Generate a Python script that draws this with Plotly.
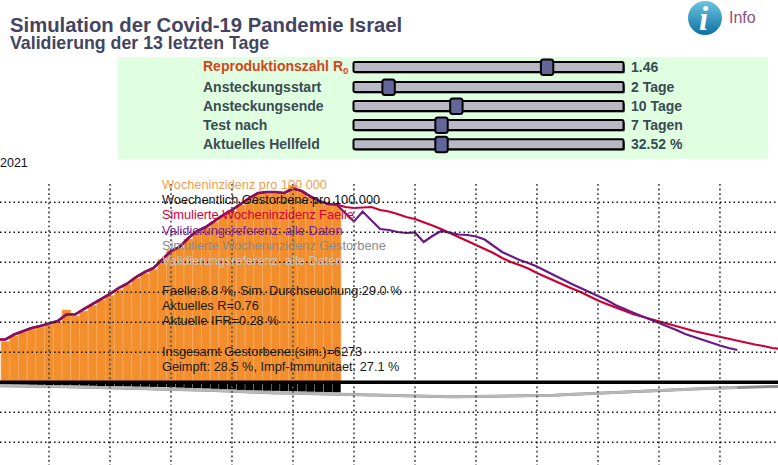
import plotly.graph_objects as go

# ---- data ----
weekly_incidence = [40.8,46.3,50.3,53.3,55.3,57.8,60.3,72.3,66.3,71.3,76.8,82.3,86.8,92.3,97.8,103.8,108.8,112.8,122.8,131.8,
                    134.3,143.3,150.3,154.8,160.3,166.3,171.3,177.3,183.3,188.3,189.3,189.3,188.3,196.8,190.3,184.8,180.3,177.3,176.8]
weekly_deaths = [-2,-2.2,-2.3,-2.5,-2.6,-2.8,-2.9,-3.1,-3.2,-3.4,-3.5,-3.7,-3.8,-4,-4.1,-4.3,-4.4,-4.6,-4.8,-5,
                 -5.3,-5.6,-5.9,-6.2,-6.5,-6.9,-7.2,-7.6,-8,-8.2,-8.4,-8.6,-8.8,-9,-9.2,-9.4,-9.6,-9.8,-10]
# case curves start one step before the first bar (left page edge)
validation_cases = [42.8,42.8,47.8,51.3,54.3,56.3,58.8,61.3,67.8,67.8,73.3,78.3,83.3,88.3,94.3,98.8,105.3,110.3,114.3,122.3,131.3,
                    135.3,144.3,151.3,155.3,161.3,167.3,172.3,178.3,184.3,189.3,190.3,190.3,189.3,193.8,191.3,185.8,181.3,178.3,177.8,
                    169.3,160.8,170.8,162.3,153.3,152.3,150.3,149.3,149.8,140.3,146.3,151.3,149.8,147.8,147.3,145.8,142.8,136.3,130.3,
                    126.3,122.3,119.3,115.8,111.3,106.8,102.8,98.3,94.3,90.3,86.3,82.3,77.3,73.3,69.8,66.3,62.8,59.8,56.3,52.3,48.3,
                    45.3,42.3,39.3,36.8,34.3,32.3]
simulated_cases = [42.8,42.8,47.8,51.3,54.3,56.3,58.8,61.3,67.8,67.8,73.3,78.3,83.3,88.3,94.3,98.8,105.3,110.3,114.3,122.3,131.3,
                   135.3,144.3,151.3,155.3,161.3,167.3,172.3,178.3,184.3,189.3,190.3,190.3,189.3,193.8,191.3,185.8,181.3,178.3,177.8,
                   175.3,174.3,174.8,175.3,172.3,170.8,168.3,165.3,163.3,160.3,156.8,153.3,149.3,145.8,141.8,137.8,133.3,129.3,124.3,
                   120.3,117.3,113.8,109.3,105.3,101.3,97.3,93.8,90.3,85.8,81.8,78.3,74.8,71.3,68.3,65.8,63.3,60.8,58.3,55.8,53.8,
                   51.3,49.3,47.3,45.3,43.3,41.3,39.3,37.8,36.3,34.3,33.3]
simulated_deaths = [-3.5,-3.5,-3.6,-3.7,-3.9,-4,-4.2,-4.3,-4.5,-4.6,-4.8,-4.9,-5.1,-5.2,-5.4,-5.5,-5.7,-5.9,-6.1,-6.3,-6.5,
                    -6.8,-7.1,-7.5,-7.9,-8.3,-8.7,-9.1,-9.5,-10,-10.2,-10.4,-10.6,-10.8,-11,-11.2,-11.4,-11.6,-11.8,-12,
                    -12.3,-12.6,-12.9,-13.2,-13.5,-13.7,-13.9,-14.1,-14.3,-14.4,-14.5,-14.5,-14.5,-14.5,-14.4,-14.4,-14.3,-14.3,-14.2,-14.1,-13.9,
                    -13.7,-13.5,-13.2,-12.9,-12.5,-12.1,-11.6,-11.2,-10.7,-10.2,-9.8,-9.4,-9,-8.5,-8.1,-7.7,-7.4,-7.2,-6.9,-6.7,
                    -6.4,-6,-5.7,-5.4,-5.2,-4.9,-4.7,-4.5,-4.2,-4]
validation_deaths = simulated_deaths[:86]
week_ticks = [5,12,19,26,33,40,47,54,61,68,75,82]
value_ticks = [180,150,120,90,60,30,-30,-60]

slider_labels = ["Reproduktionszahl R<sub>0</sub>","Ansteckungsstart","Ansteckungsende","Test nach","Aktuelles Hellfeld"]
slider_texts = ["1.46","2 Tage","10 Tage","7 Tagen","32.52 %"]
slider_fraction = [0.717,0.130,0.381,0.326,0.326]

legend_lines = ["Wocheninzidenz pro 100 000","Woechentlich Gestorbene pro 100.000","Simulierte Wocheninzidenz Faelle",
                "Validierungsreferenz: alle Daten","Simulierte Wocheninzidenz Gestorbene","Validierungsreferenz: alle Daten"]
legend_colors = ["#f0a050","#111111","#d8003a","#7a1fa0","#8a8a8a","#c4c4c4"]
info_lines = ["Faelle:8.8 %, Sim. Durchseuchung:29.0 %","Aktuelles R=0.76","Aktuelle IFR=0.28 %",
              "Insgesamt Gestorbene:(sim.)=6273","Geimpft: 28.5 %, Impf-Immunitaet: 27.1 %"]

# ---- page geometry ----
W, H = 778, 465
FONT = "Liberation Sans"
PX0, PXSTEP = 5.4, 8.714
ZERO_PX = 382.3
def px(x): return x / W
def py(y): return 1 - y / H

OVERLAP = 40  # points where simulation and validation coincide
fig = go.Figure()
fig.add_bar(x=list(range(len(weekly_incidence))), y=weekly_incidence, marker_color="#f28e2b",
            marker_line=dict(color="#f6ab62", width=0.7), width=1.0)
fig.add_bar(x=list(range(len(weekly_deaths))), y=weekly_deaths, marker_color="#000000", marker_line_width=0, width=0.96)
days = list(range(-1, 90))
fig.add_scatter(x=days, y=simulated_cases, mode="lines", line=dict(color="#cc0033", width=2.2))
fig.add_scatter(x=days[:OVERLAP], y=validation_cases[:OVERLAP], mode="lines", line=dict(color="#85105f", width=2.6))
fig.add_scatter(x=days[OVERLAP-1:len(validation_cases)], y=validation_cases[OVERLAP-1:], mode="lines", line=dict(color="#6a1a85", width=2.2))
fig.add_scatter(x=days, y=simulated_deaths, mode="lines", line=dict(color="#8c8c8c", width=3))
fig.add_scatter(x=days[:len(validation_deaths)], y=validation_deaths, mode="lines", line=dict(color="#b8b8b8", width=2.5))

shapes = []
y_top, y_bot = ZERO_PX - 184, ZERO_PX - H
x_lo, x_hi = -PX0 / PXSTEP, (W - PX0) / PXSTEP
for t in week_ticks:
    shapes.append(dict(type="line", xref="x", yref="y", x0=t, x1=t, y0=y_top, y1=y_bot, layer="above",
                       line=dict(color="#555555", width=1.8, dash="1.8px,2.8px")))
for v in value_ticks:
    shapes.append(dict(type="line", xref="x", yref="y", x0=x_lo, x1=x_hi, y0=v, y1=v, layer="above",
                       line=dict(color="#111111", width=1.4, dash="1.5px,3px")))
shapes.append(dict(type="line", xref="x", yref="y", x0=x_lo, x1=x_hi, y0=0, y1=0, layer="above",
                   line=dict(color="#000000", width=3.5)))

# green control panel
shapes.append(dict(type="rect", xref="paper", yref="paper", x0=px(118), x1=px(768), y0=py(159), y1=py(57),
                   fillcolor="#e0ffe0", line_width=0, layer="below"))

def rounded(x0, y0, x1, y1, r):
    X0, X1, Y0, Y1 = px(x0), px(x1), py(y0), py(y1)
    rx, ry = r / W, r / H
    return (f"M{X0+rx},{Y0} L{X1-rx},{Y0} Q{X1},{Y0} {X1},{Y0-ry} L{X1},{Y1+ry} Q{X1},{Y1} {X1-rx},{Y1} "
            f"L{X0+rx},{Y1} Q{X0},{Y1} {X0},{Y1+ry} L{X0},{Y0-ry} Q{X0},{Y0} {X0+rx},{Y0} Z")

annotations = []
def text(x, y, s, size, color, bold=False, family=FONT):
    annotations.append(dict(xref="paper", yref="paper", x=px(x), y=py(y), text=f"<b>{s}</b>" if bold else s,
                            showarrow=False, xanchor="left", yanchor="middle",
                            font=dict(family=family, size=size, color=color), borderpad=0, borderwidth=0))

slider_y = [67, 87, 106, 125, 144.3]
TR0, TR1 = 353.5, 623.5
for i, y in enumerate(slider_y):
    shapes.append(dict(type="path", xref="paper", yref="paper", path=rounded(TR0+1, y-3, TR1+1.5, y+6.5, 1.5),
                       fillcolor="#000000", line_width=0, opacity=0.6, layer="above"))
    shapes.append(dict(type="path", xref="paper", yref="paper", path=rounded(TR0, y-5, TR1, y+5, 1.5),
                       fillcolor="#b9b9c6", line=dict(color="#000000", width=2), layer="above"))
    hx = TR0 + slider_fraction[i] * (TR1 - TR0)
    shapes.append(dict(type="path", xref="paper", yref="paper", path=rounded(hx-6.2, y-7.5, hx+6.2, y+8, 2.5),
                       fillcolor="#62669a", line=dict(color="#000000", width=2), layer="above"))
    text(203, y - (0.5 if i == 0 else 0), slider_labels[i], 14, "#d2461e" if i == 0 else "#3a4b54", True)
    text(631, y, slider_texts[i], 14, "#3a4b54", True)

text(9.5, 25, "Simulation der Covid-19 Pandemie Israel", 20.3, "#434560", True)
text(9.5, 43.5, "Validierung der 13 letzten Tage", 17.75, "#434560", True)
text(729, 17, "Info", 16, "#8e4f7e")
text(0, 163.5, "2021", 12.5, "#111111")

for s, c, y in zip(legend_lines, legend_colors, [184, 199, 214, 230, 245, 260]):
    text(162, y, s, 12.75, c)
for s, y in zip(info_lines, [290, 305, 320, 351, 366]):
    text(162, y, s, 12.75, "#1a1a1a")

# info icon
fig.add_scatter(x=[(705 - PX0) / PXSTEP], y=[ZERO_PX - 18], mode="markers",
                marker=dict(symbol="circle", size=34, color="#6cc6e0", line_width=0,
                            gradient=dict(type="vertical", color="#0f6fa3")))
text(698.5, 19, "i", 33, "#ffffff", True, "Liberation Serif")
annotations[-1]["text"] = "<b><i>i</i></b>"

fig.update_layout(
    width=W, height=H, margin=dict(l=0, r=0, t=0, b=0), autosize=False,
    paper_bgcolor="#ffffff", plot_bgcolor="rgba(0,0,0,0)", barmode="overlay", showlegend=False,
    hovermode=False, shapes=shapes, annotations=annotations, font=dict(family=FONT),
    xaxis=dict(visible=False, range=[x_lo, x_hi], fixedrange=True, domain=[0, 1]),
    yaxis=dict(visible=False, range=[y_bot, ZERO_PX], fixedrange=True, domain=[0, 1]),
)
fig.write_html("out.html", config=dict(displayModeBar=False),
               post_script="document.body.style.margin='0';document.body.style.overflow='hidden';")
